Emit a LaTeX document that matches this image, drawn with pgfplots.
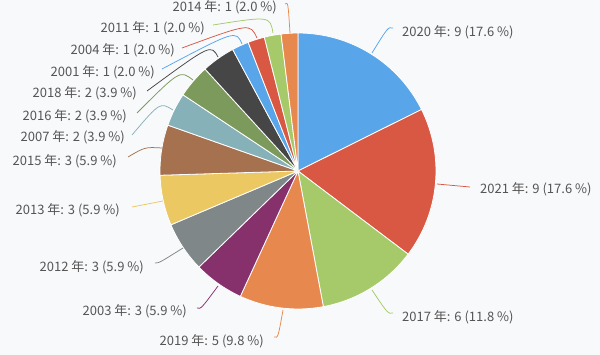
\documentclass[border=0pt]{standalone}
\usepackage{pgfplots}
\pgfplotsset{compat=1.18}
\usepackage{fontspec}
\setmainfont{Noto Sans CJK JP}
\definecolor{bg}{HTML}{F8F9FB}
\definecolor{cblue}{HTML}{58A5EA}
\definecolor{cred}{HTML}{D95843}
\definecolor{cgreen}{HTML}{A6CA6A}
\definecolor{corange}{HTML}{E7894F}
\definecolor{cpurple}{HTML}{86306C}
\definecolor{cgray}{HTML}{7F8789}
\definecolor{cyellow}{HTML}{EBC862}
\definecolor{cbrown}{HTML}{A5714F}
\definecolor{cteal}{HTML}{87B1B8}
\definecolor{colive}{HTML}{7B9A5C}
\definecolor{cdark}{HTML}{464646}
\definecolor{txt}{HTML}{555555}
% total = 51
\newcommand{\slice}[3]{%
  \pgfmathsetmacro{\aS}{90-#1/51*360}%
  \pgfmathsetmacro{\aE}{90-(#1+#2)/51*360}%
  \edef\doslice{\noexpand\fill[#3, draw=white, line width=0.8pt, line join=round] (axis cs:298,171) -- ([shift={(\aS:138pt)}]axis cs:298,171)
    arc[start angle=\aS, end angle=\aE, radius=138pt] -- cycle;}%
  \doslice}
\newcommand{\leader}[7]{%
  \draw[#1, line width=0.75pt] (axis cs:#2) .. controls (axis cs:#3) .. (axis cs:#4);
  \node[anchor=#5, inner sep=0pt, text=txt, font=\fontsize{13}{15}\selectfont] at (axis cs:#6) {#7};}
\begin{document}
\begin{tikzpicture}
\begin{axis}[width=600pt, height=355pt, scale only axis, xmin=0, xmax=600, ymin=0, ymax=355,
  y dir=reverse, hide axis, clip=false]
\fill[bg] (axis cs:0,0) rectangle (axis cs:600,355);
% start, value, colour
\slice{0}{9}{cblue}
\slice{9}{9}{cred}
\slice{18}{6}{cgreen}
\slice{24}{5}{corange}
\slice{29}{3}{cpurple}
\slice{32}{3}{cgray}
\slice{35}{3}{cyellow}
\slice{38}{3}{cbrown}
\slice{41}{2}{cteal}
\slice{43}{2}{colive}
\slice{45}{2}{cdark}
\slice{47}{1}{cblue}
\slice{48}{1}{cred}
\slice{49}{1}{cgreen}
\slice{50}{1}{corange}
\leader{cblue}{372,53}{388,27}{393,28}{west}{402,32}{2020 年: 9 (17.6 \%)}
\leader{cred}{437,184}{454,186}{470,187}{west}{480,189}{2021 年: 9 (17.6 \%)}
\leader{cgreen}{372,290}{388,314}{393,313}{west}{402,317}{2017 年: 6 (11.8 \%)}
\leader{corange}{283,310}{278,338}{274,337}{east}{264,341}{2019 年: 5 (9.8 \%)}
\leader{cpurple}{218,286}{201,309}{197,308}{east}{187,311}{2003 年: 3 (5.9 \%)}
\leader{cgray}{183,248}{159,263}{155,263}{east}{144,267}{2012 年: 3 (5.9 \%)}
\leader{cyellow}{163,201}{148,204}{132,207}{east}{120,210}{2013 年: 3 (5.9 \%)}
\leader{cbrown}{162,148}{145,147}{128,157}{east}{117,161}{2015 年: 3 (5.9 \%)}
\leader{cteal}{173,110}{160,102}{132,135}{east}{125,137}{2007 年: 2 (3.9 \%)}
\leader{colive}{193,80}{180,70}{137,113}{east}{127,116}{2016 年: 2 (3.9 \%)}
\leader{cdark}{218,57}{211,44}{147,91}{east}{137,93}{2018 年: 2 (3.9 \%)}
\leader{cblue}{242,44}{236,30}{162,69}{east}{155,72}{2001 年: 1 (2.0 \%)}
\leader{cred}{257,38}{250,23}{182,48}{east}{175,50}{2004 年: 1 (2.0 \%)}
\leader{cgreen}{273,33}{270,16}{213,25}{east}{205,28}{2011 年: 1 (2.0 \%)}
\leader{corange}{290,33}{288,2}{285,4}{east}{277,7}{2014 年: 1 (2.0 \%)}
\end{axis}
\end{tikzpicture}
\end{document}
